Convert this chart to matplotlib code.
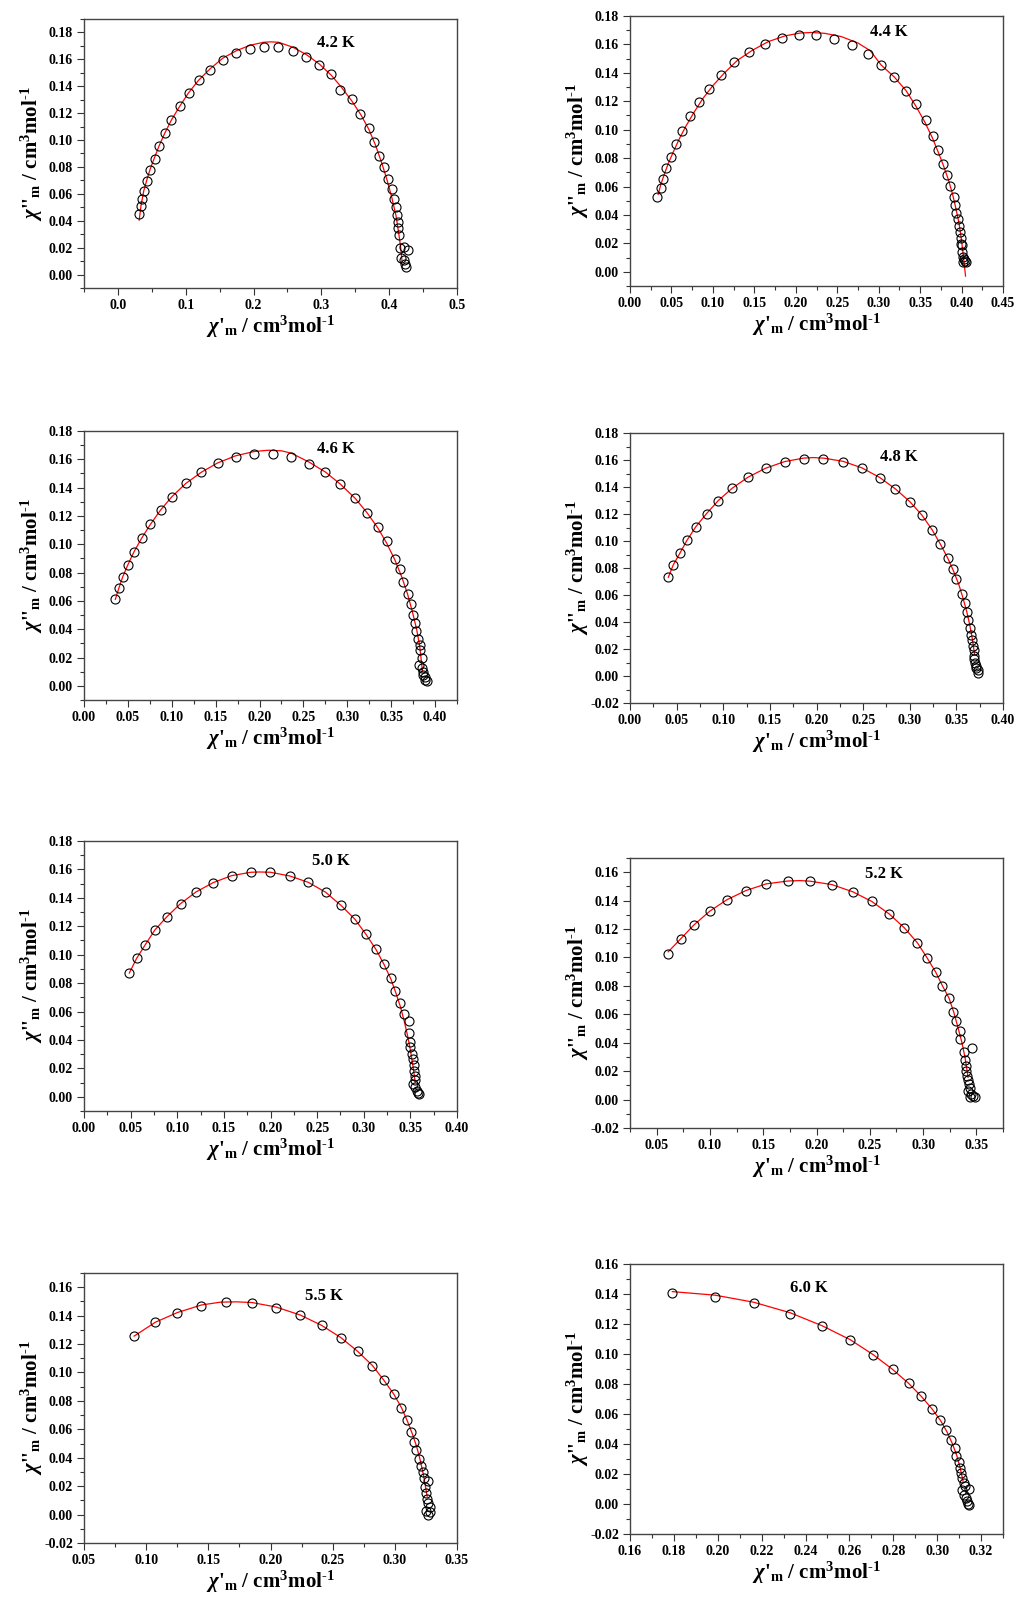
import matplotlib
matplotlib.use('Agg')
import matplotlib.pyplot as plt
from matplotlib.ticker import MultipleLocator, FormatStrFormatter

plt.rcParams['font.family'] = 'Liberation Serif'
plt.rcParams['font.weight'] = 'bold'
plt.rcParams['mathtext.fontset'] = 'custom'
plt.rcParams['mathtext.rm'] = 'Liberation Serif:bold'
plt.rcParams['mathtext.it'] = 'Liberation Serif:italic:bold'
plt.rcParams['mathtext.bf'] = 'Liberation Serif:bold'
plt.rcParams['axes.unicode_minus'] = False

# ---- 4.2 K ----
x42 = [0.0314, 0.0334, 0.0359, 0.0388, 0.0427, 0.0476, 0.054, 0.0609, 0.0688, 0.079,
       0.0909, 0.1041, 0.1193, 0.136, 0.1547, 0.1744, 0.1945, 0.2151, 0.2367, 0.2579,
       0.2775, 0.2962, 0.3143, 0.3271, 0.3458, 0.3576, 0.3698, 0.3772, 0.3851, 0.392,
       0.3983, 0.4037, 0.4067, 0.4096, 0.4111, 0.4126, 0.4136, 0.4145, 0.4155, 0.4219,
       0.428, 0.4175, 0.4219, 0.4229, 0.4244]
y42 = [0.0452, 0.0509, 0.0559, 0.0623, 0.0695, 0.0779, 0.086, 0.0954, 0.105, 0.1152,
       0.1251, 0.135, 0.1444, 0.1523, 0.1594, 0.1646, 0.1678, 0.1693, 0.1693, 0.1664,
       0.1619, 0.1557, 0.1488, 0.137, 0.1303, 0.1194, 0.109, 0.0986, 0.0883, 0.0796,
       0.0712, 0.0633, 0.0561, 0.0499, 0.0442, 0.0393, 0.0346, 0.0297, 0.0195, 0.0203,
       0.0183, 0.0121, 0.0109, 0.0077, 0.0054]
fx42 = [0.0314, 0.034, 0.038, 0.043, 0.048, 0.054, 0.061, 0.069, 0.079, 0.091, 0.104,
        0.119, 0.136, 0.155, 0.175, 0.195, 0.215, 0.225, 0.237, 0.258, 0.278, 0.297,
        0.315, 0.330, 0.345, 0.358, 0.370, 0.380, 0.389, 0.397, 0.404, 0.410, 0.414,
        0.417, 0.419]
fy42 = [0.0405, 0.051, 0.062, 0.071, 0.079, 0.087, 0.096, 0.105, 0.115, 0.125, 0.135,
        0.1445, 0.153, 0.161, 0.1665, 0.1705, 0.1727, 0.173, 0.1727, 0.169, 0.1635,
        0.1565, 0.148, 0.139, 0.129, 0.119, 0.108, 0.096, 0.083, 0.070, 0.057, 0.044,
        0.031, 0.020, 0.0096]

# ---- 4.4 K ----
x44 = [0.033, 0.037, 0.0398, 0.0438, 0.0494, 0.0555, 0.0623, 0.072, 0.0828, 0.0949,
       0.1097, 0.1254, 0.1435, 0.1632, 0.1833, 0.2042, 0.2247, 0.246, 0.2677, 0.2866,
       0.3031, 0.3188, 0.3333, 0.3449, 0.357, 0.365, 0.3719, 0.3775, 0.3827, 0.3863,
       0.3904, 0.392, 0.3936, 0.3952, 0.3964, 0.398, 0.3988, 0.3992, 0.4008, 0.4,
       0.4012, 0.4024, 0.4036, 0.4048, 0.402]
y44 = [0.0523, 0.0593, 0.0654, 0.0729, 0.0809, 0.0898, 0.0992, 0.1093, 0.1194, 0.1285,
       0.1388, 0.1473, 0.155, 0.1606, 0.1646, 0.1667, 0.1663, 0.1639, 0.1595, 0.1534,
       0.1454, 0.1369, 0.1271, 0.1184, 0.1065, 0.0954, 0.0858, 0.076, 0.0678, 0.0605,
       0.0528, 0.0471, 0.0417, 0.0371, 0.0324, 0.0277, 0.0235, 0.0199, 0.0188, 0.0141,
       0.0106, 0.0089, 0.0075, 0.0066, 0.007]
fx44 = [0.034, 0.037, 0.041, 0.046, 0.052, 0.059, 0.067, 0.077, 0.088, 0.100, 0.114,
        0.130, 0.148, 0.167, 0.187, 0.205, 0.219, 0.235, 0.255, 0.275, 0.290, 0.303,
        0.319, 0.333, 0.345, 0.356, 0.365, 0.372, 0.378, 0.384, 0.389, 0.393, 0.397,
        0.400, 0.402, 0.4048]
fy44 = [0.0545, 0.061, 0.068, 0.076, 0.084, 0.093, 0.102, 0.112, 0.122, 0.131, 0.140,
        0.149, 0.156, 0.162, 0.166, 0.168, 0.1684, 0.1678, 0.1655, 0.161, 0.1555, 0.1455,
        0.137, 0.1275, 0.1165, 0.105, 0.094, 0.084, 0.075, 0.065, 0.055, 0.045, 0.034,
        0.022, 0.012, -0.003]

# ---- 4.6 K ----
x46 = [0.0357, 0.0399, 0.0441, 0.0502, 0.0574, 0.0657, 0.0756, 0.0874, 0.1003, 0.1163,
       0.1338, 0.1524, 0.1729, 0.1938, 0.2151, 0.2364, 0.2565, 0.2751, 0.2922, 0.3089,
       0.3226, 0.3348, 0.3447, 0.3542, 0.3595, 0.3637, 0.3686, 0.3728, 0.3743, 0.377,
       0.3785, 0.3804, 0.3823, 0.3834, 0.3846, 0.3819, 0.3846, 0.3857, 0.3868, 0.388,
       0.3891, 0.3903]
y46 = [0.0611, 0.0693, 0.0768, 0.0855, 0.0947, 0.1043, 0.114, 0.1243, 0.1337, 0.1431,
       0.1509, 0.1575, 0.1619, 0.164, 0.164, 0.1617, 0.157, 0.1509, 0.1424, 0.1325,
       0.1222, 0.1123, 0.1022, 0.0893, 0.0827, 0.0731, 0.0646, 0.0578, 0.05, 0.0442,
       0.039, 0.0331, 0.0289, 0.0251, 0.0195, 0.0148, 0.0125, 0.0101, 0.0078, 0.0059,
       0.0042, 0.0031]
fx46 = [0.0357, 0.040, 0.044, 0.050, 0.057, 0.0657, 0.0756, 0.0874, 0.1003, 0.1163,
        0.1338, 0.1524, 0.1729, 0.1938, 0.2098, 0.2251, 0.2364, 0.2565, 0.2751, 0.2922,
        0.3089, 0.3226, 0.3348, 0.3447, 0.3542, 0.362, 0.3686, 0.3743, 0.379, 0.3825,
        0.3857]
fy46 = [0.0611, 0.0695, 0.0768, 0.0855, 0.0947, 0.1043, 0.114, 0.1243, 0.1337, 0.1431,
        0.1509, 0.1575, 0.1625, 0.1655, 0.1664, 0.166, 0.1643, 0.158, 0.151, 0.1424,
        0.1325, 0.1222, 0.1115, 0.101, 0.089, 0.077, 0.065, 0.052, 0.040, 0.028,
        0.0101]

# ---- 4.8 K ----
x48 = [0.0411, 0.0464, 0.0536, 0.0611, 0.0704, 0.0821, 0.0946, 0.1096, 0.1264, 0.1454,
       0.1657, 0.1861, 0.2075, 0.2286, 0.2489, 0.2679, 0.2846, 0.3, 0.3129, 0.3239,
       0.3329, 0.3407, 0.3468, 0.3496, 0.3561, 0.3593, 0.3614, 0.3625, 0.3643, 0.3657,
       0.3671, 0.3682, 0.3686, 0.3693, 0.3686, 0.3696, 0.3707, 0.3714, 0.3729, 0.3736]
y48 = [0.0731, 0.0823, 0.0911, 0.1005, 0.1104, 0.1203, 0.1299, 0.1391, 0.1472, 0.1539,
       0.1586, 0.161, 0.161, 0.1588, 0.1541, 0.147, 0.1386, 0.1292, 0.1193, 0.1084,
       0.0976, 0.0874, 0.079, 0.0719, 0.0608, 0.0541, 0.0472, 0.0417, 0.0356, 0.0306,
       0.0269, 0.0225, 0.019, 0.0146, 0.0126, 0.0096, 0.0072, 0.0057, 0.0042, 0.0022]
fx48 = [0.0411, 0.0464, 0.0536, 0.0611, 0.0704, 0.0821, 0.0946, 0.1096, 0.1264, 0.1454,
        0.1657, 0.1861, 0.1964, 0.2075, 0.2286, 0.2489, 0.2679, 0.2846, 0.3, 0.3129,
        0.3239, 0.3329, 0.3407, 0.3468, 0.3525, 0.357, 0.361, 0.3643, 0.367, 0.3696]
fy48 = [0.0731, 0.0823, 0.0911, 0.1005, 0.1104, 0.1203, 0.1299, 0.1391, 0.1472, 0.1539,
        0.1588, 0.1614, 0.1618, 0.1614, 0.159, 0.1541, 0.147, 0.1386, 0.1292, 0.1193,
        0.1084, 0.0976, 0.0874, 0.078, 0.068, 0.058, 0.048, 0.038, 0.028, 0.0158]

# ---- 5.0 K ----
x50 = [0.0486, 0.0564, 0.0657, 0.076, 0.0889, 0.1035, 0.12, 0.1385, 0.1582, 0.1789,
       0.1999, 0.2206, 0.2406, 0.2592, 0.2756, 0.2906, 0.3024, 0.3131, 0.3217, 0.3288,
       0.3334, 0.3388, 0.3431, 0.3481, 0.3484, 0.3491, 0.3499, 0.3513, 0.3524, 0.3534,
       0.3538, 0.3545, 0.3549, 0.3524, 0.3552, 0.3566, 0.3581, 0.3595]
y50 = [0.0871, 0.0974, 0.107, 0.1174, 0.1267, 0.1359, 0.1441, 0.1507, 0.1556, 0.158,
       0.1582, 0.1554, 0.1509, 0.1439, 0.1347, 0.1249, 0.1143, 0.1037, 0.0932, 0.0838,
       0.0744, 0.0657, 0.0584, 0.0535, 0.0451, 0.0387, 0.035, 0.0303, 0.0263, 0.0221,
       0.0181, 0.0146, 0.0117, 0.0092, 0.007, 0.004, 0.0028, 0.0023]
fx50 = [0.0486, 0.0564, 0.0657, 0.076, 0.0889, 0.1035, 0.12, 0.1385, 0.1582, 0.1789,
        0.1881, 0.1999, 0.2206, 0.2406, 0.2592, 0.2756, 0.2906, 0.3024, 0.3131, 0.3217,
        0.329, 0.3345, 0.3395, 0.3435, 0.347, 0.35, 0.3525, 0.3552]
fy50 = [0.0871, 0.0974, 0.107, 0.1174, 0.1267, 0.1359, 0.1441, 0.1507, 0.1556, 0.158,
        0.1582, 0.158, 0.1554, 0.1509, 0.1439, 0.1347, 0.1249, 0.1143, 0.1037, 0.0932,
        0.083, 0.073, 0.063, 0.053, 0.043, 0.033, 0.023, 0.0103]

# ---- 5.2 K ----
x52 = [0.0609, 0.0728, 0.085, 0.0997, 0.1156, 0.1338, 0.1528, 0.1731, 0.1938, 0.2144,
       0.2341, 0.2519, 0.2681, 0.2825, 0.2947, 0.3038, 0.3119, 0.3181, 0.3244, 0.3281,
       0.3313, 0.3344, 0.335, 0.3456, 0.3381, 0.3394, 0.34, 0.3406, 0.3416, 0.3425,
       0.3434, 0.3438, 0.3422, 0.3453, 0.3469, 0.3488, 0.3444]
y52 = [0.1023, 0.1133, 0.1229, 0.1325, 0.1405, 0.1471, 0.1518, 0.1541, 0.1537, 0.1513,
       0.1462, 0.1394, 0.1307, 0.1208, 0.1103, 0.0997, 0.0896, 0.0802, 0.0713, 0.0615,
       0.0551, 0.0483, 0.0427, 0.0366, 0.0333, 0.0279, 0.0239, 0.0204, 0.0169, 0.0138,
       0.011, 0.0082, 0.0059, 0.004, 0.0026, 0.0019, 0.0016]
fx52 = [0.0609, 0.0728, 0.085, 0.0997, 0.1156, 0.1338, 0.1528, 0.1731, 0.1844, 0.1938,
        0.2144, 0.2341, 0.2519, 0.2681, 0.2825, 0.2947, 0.3038, 0.3119, 0.3181, 0.3244,
        0.329, 0.333, 0.3365, 0.3395, 0.3422]
fy52 = [0.104, 0.1133, 0.1229, 0.1325, 0.1405, 0.1471, 0.1518, 0.1538, 0.1541, 0.1537,
        0.1513, 0.1462, 0.1394, 0.1307, 0.1208, 0.1103, 0.0997, 0.0896, 0.0802, 0.0713,
        0.061, 0.050, 0.040, 0.029, 0.0157]

# ---- 5.5 K ----
x55 = [0.0903, 0.1075, 0.1252, 0.1445, 0.1644, 0.1853, 0.2047, 0.224, 0.2412, 0.2565,
       0.2702, 0.282, 0.2911, 0.2992, 0.3053, 0.3094, 0.3131, 0.3158, 0.3174, 0.3196,
       0.3212, 0.3225, 0.3236, 0.3266, 0.3244, 0.3249, 0.3258, 0.3268, 0.3279, 0.3249,
       0.3284, 0.3266]
y55 = [0.1256, 0.1354, 0.1422, 0.1469, 0.1493, 0.149, 0.1457, 0.1404, 0.1331, 0.1246,
       0.1148, 0.1049, 0.0946, 0.0847, 0.0753, 0.0664, 0.0584, 0.0514, 0.0451, 0.039,
       0.034, 0.0298, 0.0258, 0.0239, 0.0195, 0.0153, 0.011, 0.0082, 0.0054, 0.0028,
       0.0016, 0.0]
fx55 = [0.0903, 0.1075, 0.1252, 0.1445, 0.16, 0.1727, 0.1853, 0.2047, 0.224, 0.2412,
        0.2565, 0.2702, 0.282, 0.2911, 0.2992, 0.3053, 0.31, 0.314, 0.3175, 0.3205,
        0.323, 0.326]
fy55 = [0.1256, 0.1354, 0.1422, 0.1475, 0.1495, 0.1497, 0.1492, 0.146, 0.1404, 0.1331,
        0.1246, 0.1148, 0.1049, 0.0946, 0.0847, 0.0753, 0.066, 0.057, 0.048, 0.038,
        0.028, 0.0129]

# ---- 6.0 K ----
x60 = [0.1793, 0.1989, 0.2164, 0.233, 0.2476, 0.2604, 0.2709, 0.2797, 0.287, 0.2928,
       0.2977, 0.3015, 0.3042, 0.3065, 0.3079, 0.3088, 0.3099, 0.3103, 0.3109, 0.3112,
       0.3121, 0.3129, 0.3147, 0.3114, 0.3121, 0.313, 0.3136, 0.3141, 0.3145]
y60 = [0.1407, 0.1381, 0.1339, 0.127, 0.1185, 0.1092, 0.0992, 0.0897, 0.0804, 0.0717,
       0.0633, 0.0557, 0.0491, 0.0428, 0.0371, 0.0322, 0.0278, 0.024, 0.0206, 0.0173,
       0.014, 0.0118, 0.0102, 0.0091, 0.0062, 0.004, 0.0018, 0.0002, -0.0009]
fx60 = [0.1793, 0.1989, 0.2164, 0.233, 0.2476, 0.2604, 0.2709, 0.2797, 0.287, 0.2928,
        0.2977, 0.3015, 0.3045, 0.307, 0.309, 0.3105, 0.3118]
fy60 = [0.1416, 0.1392, 0.1345, 0.1275, 0.1188, 0.1095, 0.0995, 0.0897, 0.0804, 0.0717,
        0.0633, 0.0557, 0.048, 0.040, 0.032, 0.024, 0.0151]

labels = ['4.2 K', '4.4 K', '4.6 K', '4.8 K', '5.0 K', '5.2 K', '5.5 K', '6.0 K']
points = [(x42, y42), (x44, y44), (x46, y46), (x48, y48),
          (x50, y50), (x52, y52), (x55, y55), (x60, y60)]
fits = [(fx42, fy42), (fx44, fy44), (fx46, fy46), (fx48, fy48),
        (fx50, fy50), (fx52, fy52), (fx55, fy55), (fx60, fy60)]

# axes boxes in pixels: left, right, top, bottom
W, H = 1019, 1602
boxes = [(84, 457, 19, 288), (630, 1003, 16, 286),
         (84, 457, 431, 700), (630, 1003, 433, 703),
         (84, 457, 841, 1111), (630, 1003, 858, 1128),
         (84, 457, 1273, 1543), (630, 1003, 1264, 1534)]
xlims = [(-0.05, 0.5), (0.0, 0.45), (0.0, 0.425), (0.0, 0.40),
         (0.0, 0.40), (0.025, 0.375), (0.05, 0.35), (0.16, 0.33)]
ylims = [(-0.01, 0.19), (-0.01, 0.18), (-0.01, 0.18), (-0.02, 0.18),
         (-0.01, 0.18), (-0.02, 0.17), (-0.02, 0.17), (-0.02, 0.16)]
xsteps = [0.1, 0.05, 0.05, 0.05, 0.05, 0.05, 0.05, 0.02]
xfmts = ['%.1f', '%.2f', '%.2f', '%.2f', '%.2f', '%.2f', '%.2f', '%.2f']
tpos = [(0.676, 0.912), (0.694, 0.94), (0.676, 0.933), (0.721, 0.911),
        (0.662, 0.926), (0.681, 0.94), (0.643, 0.915), (0.48, 0.911)]

xlabel = r"$\chi$'$_{\mathrm{m}}$ / cm$^{\mathrm{3}}$mol$^{\text{-1}}$"
ylabel = r"$\chi$''$_{\mathrm{m}}$ / cm$^{\mathrm{3}}$mol$^{\text{-1}}$"

fig = plt.figure(figsize=(W / 100, H / 100), dpi=100)
for i in range(8):
    l, r, t, b = boxes[i]
    ax = fig.add_axes([l / W, 1 - b / H, (r - l) / W, (b - t) / H])
    xs, ys = points[i]
    fx, fy = fits[i]
    ax.plot(fx, fy, color='red', lw=0.9, zorder=2)
    ax.plot(xs, ys, 'o', ms=6.5, mfc='none', mec='black', mew=0.8, zorder=3)
    ax.set_xlim(*xlims[i])
    ax.set_ylim(*ylims[i])
    ax.xaxis.set_major_locator(MultipleLocator(xsteps[i]))
    ax.xaxis.set_minor_locator(MultipleLocator(xsteps[i] / 2))
    ax.yaxis.set_major_locator(MultipleLocator(0.02))
    ax.yaxis.set_minor_locator(MultipleLocator(0.01))
    ax.xaxis.set_major_formatter(FormatStrFormatter(xfmts[i]))
    ax.yaxis.set_major_formatter(FormatStrFormatter('%.2f'))
    ax.tick_params(which='both', direction='out', top=False, right=False,
                   color='#333333', width=0.8)
    ax.tick_params(which='major', length=5, labelsize=10, pad=3)
    ax.tick_params(which='minor', length=3)
    for s in ax.spines.values():
        s.set_color('#444444')
        s.set_linewidth(1.0)
    ax.set_xlabel(xlabel, fontsize=15, fontweight='bold')
    ax.set_ylabel(ylabel, fontsize=15, fontweight='bold')
    ax.xaxis.label.set_va('center')
    ax.yaxis.label.set_va('center')
    ax.xaxis.set_label_coords(0.5, -0.145)
    ax.yaxis.set_label_coords(-0.14, 0.5)
    ax.text(tpos[i][0], tpos[i][1], labels[i], transform=ax.transAxes,
            ha='center', va='center', fontsize=12, fontweight='bold')

fig.savefig('out.png', dpi=100)
